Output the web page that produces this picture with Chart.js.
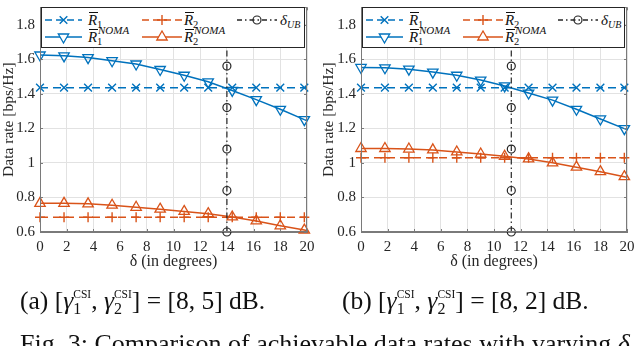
<!DOCTYPE html>
<html><head><meta charset="utf-8">
<script src="https://cdn.jsdelivr.net/npm/chart.js@4"></script>
<style>
html,body{margin:0;padding:0;background:#fff;width:640px;height:346px;overflow:hidden;font-family:"Liberation Serif",serif;color:#111;}
.panel{position:absolute;top:0;width:320px;height:272px;}
.panel canvas{position:absolute;left:0;top:0;}
svg text{font-family:"Liberation Serif",serif;fill:#111;}
</style>
</head>
<body>
<div class="panel" id="pa" style="left:0"><canvas id="ca" width="320" height="272"></canvas></div>
<div class="panel" id="pb" style="left:320px"><canvas id="cb" width="320" height="272"></canvas></div>
<svg id="caps" width="640" height="346" style="position:absolute;left:0;top:0;pointer-events:none">
  <text x="20" y="309" font-size="25.5">(a) [<tspan font-style="italic">γ</tspan><tspan font-size="16" dy="5">1</tspan><tspan font-size="11.5" dx="-8" dy="-16">CSI</tspan><tspan dy="11">, </tspan><tspan font-style="italic">γ</tspan><tspan font-size="16" dy="5">2</tspan><tspan font-size="11.5" dx="-8" dy="-16">CSI</tspan><tspan dy="11">] = [8, 5] dB.</tspan></text>
  <text x="342" y="309" font-size="25.5">(b) [<tspan font-style="italic">γ</tspan><tspan font-size="16" dy="5">1</tspan><tspan font-size="11.5" dx="-8" dy="-16">CSI</tspan><tspan dy="11">, </tspan><tspan font-style="italic">γ</tspan><tspan font-size="16" dy="5">2</tspan><tspan font-size="11.5" dx="-8" dy="-16">CSI</tspan><tspan dy="11">] = [8, 2] dB.</tspan></text>
  <text x="20" y="352" font-size="26">Fig. 3: Comparison of achievable data rates with varying <tspan font-style="italic">δ</tspan></text>
</svg>
<script>
// ---- data ----
const deltaX = [0, 1.8, 3.6, 5.4, 7.2, 9, 10.8, 12.6, 14.4, 16.2, 18, 19.8, 20];
const xTicks = [0, 2, 4, 6, 8, 10, 12, 14, 16, 18, 20];
const yTicks = [0.6, 0.8, 1, 1.2, 1.4, 1.6, 1.8];

// (a) [8,5] dB
const a_R1     = [1.435,1.435,1.435,1.435,1.435,1.435,1.435,1.435,1.435,1.435,1.435,1.435,1.435];
const a_R2     = [0.685,0.685,0.685,0.685,0.685,0.685,0.685,0.685,0.685,0.685,0.685,0.685,0.685];
const a_R1noma = [1.624,1.619,1.609,1.591,1.572,1.540,1.507,1.469,1.419,1.366,1.310,1.250,1.244];
const a_R2noma = [0.766,0.766,0.763,0.755,0.743,0.732,0.719,0.706,0.687,0.664,0.636,0.611,0.607];
const a_ubX = 14;
// (b) [8,2] dB
const b_R1     = [1.435,1.435,1.435,1.435,1.435,1.435,1.435,1.435,1.435,1.435,1.435,1.435,1.435];
const b_R2     = [1.03,1.03,1.03,1.03,1.03,1.03,1.03,1.03,1.03,1.03,1.03,1.03,1.03];
const b_R1noma = [1.552,1.550,1.542,1.525,1.507,1.479,1.445,1.404,1.363,1.310,1.254,1.198,1.192];
const b_R2noma = [1.083,1.083,1.080,1.075,1.063,1.051,1.038,1.023,1.000,0.975,0.949,0.920,0.916];
const b_ubX = 11.3;
const ubY = [0.6, 0.84, 1.08, 1.32, 1.56, 1.8];

const BLUE = '#0072BD', ORANGE = '#D95319', BLACK = '#262626';
const AXC = '#7a7a7a', GRID = '#e2e2e2';
const NMARK = 12;

function pts(xs, ys){ return xs.map((x,i)=>({x:x, y:ys[i]})); }
function mr(r){ return ctx => ctx.dataIndex < NMARK ? r : 0; }

const boxPlugin = {
  id:'box',
  afterDatasetsDraw(chart){
    const {ctx, chartArea:a, scales} = chart;
    ctx.save();
    ctx.strokeStyle = AXC; ctx.lineWidth = 1;
    ctx.strokeRect(Math.round(a.left)+0.5, Math.round(a.top)+0.5, Math.round(a.right-a.left)-1, Math.round(a.bottom-a.top)-1);
    ctx.beginPath();
    xTicks.forEach(v=>{ const p = Math.round(scales.x.getPixelForValue(v))+0.5;
      ctx.moveTo(p, a.bottom); ctx.lineTo(p, a.bottom-3); ctx.moveTo(p, a.top); ctx.lineTo(p, a.top+3); });
    yTicks.forEach(v=>{ const p = Math.round(scales.y.getPixelForValue(v))+0.5;
      ctx.moveTo(a.left, p); ctx.lineTo(a.left+3, p); ctx.moveTo(a.right, p); ctx.lineTo(a.right-3, p); });
    ctx.stroke();
    ctx.restore();
  }
};

function makeChart(id, yw, R1, R2, R1n, R2n, ubX){
  const FAM = '"Liberation Serif", serif';
  const tickFont = {family:FAM, size:15};
  return new Chart(document.getElementById(id), {
    type:'scatter',
    data:{datasets:[
      {label:'R1', data:pts(deltaX,R1), showLine:true, borderColor:BLUE, borderWidth:1.5, borderDash:[8,5],
        pointStyle:'crossRot', pointRadius:mr(5.5), pointBorderColor:BLUE, pointBorderWidth:1.4, clip:false, order:3},
      {label:'R2', data:pts(deltaX,R2), showLine:true, borderColor:ORANGE, borderWidth:1.5, borderDash:[8,5],
        pointStyle:'cross', pointRadius:mr(5), pointBorderColor:ORANGE, pointBorderWidth:1.4, clip:false, order:3},
      {label:'UB', data:pts(ubY.map(()=>ubX), ubY), showLine:true, borderColor:BLACK, borderWidth:1.2, borderDash:[6,3,1.5,3],
        pointStyle:'circle', pointRadius:4, pointBorderColor:BLACK, pointBackgroundColor:'rgba(0,0,0,0)', pointBorderWidth:1.2, clip:false, order:1},
      {label:'R1noma', data:pts(deltaX,R1n), showLine:true, borderColor:BLUE, borderWidth:1.5,
        pointStyle:'triangle', rotation:180, pointRadius:mr(6), pointBorderColor:BLUE, pointBackgroundColor:'rgba(0,0,0,0)', pointBorderWidth:1.3, clip:false, order:2},
      {label:'R2noma', data:pts(deltaX,R2n), showLine:true, borderColor:ORANGE, borderWidth:1.5,
        pointStyle:'triangle', pointRadius:mr(6), pointBorderColor:ORANGE, pointBackgroundColor:'rgba(0,0,0,0)', pointBorderWidth:1.3, clip:false, order:2}
    ]},
    options:{
      responsive:false, animation:false, devicePixelRatio:1,
      layout:{padding:{top:2, right:13, left:0, bottom:0}},
      plugins:{legend:{display:false}, tooltip:{enabled:false}},
      scales:{
        x:{type:'linear', min:0, max:20,
          ticks:{stepSize:2, padding:6, color:BLACK, font:tickFont, maxRotation:0, callback:v=>String(Math.round(v))},
          grid:{color:GRID, drawTicks:false},
          border:{display:true, color:AXC},
          title:{display:true, text:'δ (in degrees)', color:BLACK, font:{family:FAM, size:16}, padding:{top:0,bottom:1}},
          afterFit:s=>{ s.height = 40; s.paddingLeft = 0; s.paddingRight = 0; }
        },
        y:{type:'linear', min:0.6, max:1.9,
          ticks:{stepSize:0.2, padding:5, color:BLACK, font:tickFont, callback:v=>String(Math.round(v*10)/10)},
          afterBuildTicks:s=>{ s.ticks = s.ticks.filter(t=>t.value<=1.8001); },
          grid:{color:GRID, drawTicks:false},
          border:{display:true, color:AXC},
          title:{display:true, text:'Data rate [bps/Hz]', color:BLACK, font:{family:FAM, size:15.5}, padding:{top:0,bottom:0}},
          afterFit:s=>{ s.width = yw; s.paddingTop = 0; s.paddingBottom = 0; }
        }
      }
    },
    plugins:[boxPlugin]
  });
}

const SVGNS = 'http://www.w3.org/2000/svg';
function marker(m, cx, cy, c){
  if(m==='x') return `<path d="M${cx-3.8} ${cy-3.8}L${cx+3.8} ${cy+3.8}M${cx-3.8} ${cy+3.8}L${cx+3.8} ${cy-3.8}" stroke="${c}" stroke-width="1.4" fill="none"/>`;
  if(m==='+') return `<path d="M${cx-5} ${cy}L${cx+5} ${cy}M${cx} ${cy-5}L${cx} ${cy+5}" stroke="${c}" stroke-width="1.4" fill="none"/>`;
  if(m==='o') return `<circle cx="${cx}" cy="${cy}" r="4" fill="none" stroke="${c}" stroke-width="1.2"/>`;
  if(m==='v') return `<path d="M${cx-5.2} ${cy-3}L${cx+5.2} ${cy-3}L${cx} ${cy+6}Z" fill="#fff" stroke="${c}" stroke-width="1.3"/>`;
  return `<path d="M${cx-5.2} ${cy+3}L${cx+5.2} ${cy+3}L${cx} ${cy-6}Z" fill="#fff" stroke="${c}" stroke-width="1.3"/>`;
}
function sample(x1, x2, y, c, dash, m){
  return `<line x1="${x1}" y1="${y}" x2="${x2}" y2="${y}" stroke="${c}" stroke-width="1.5" ${dash?`stroke-dasharray="${dash}"`:''}/>` + marker(m, (x1+x2)/2, y, c);
}
function rbar(x, base, sub, sup){
  let s = `<text x="${x}" y="${base}" font-size="15" font-style="italic">R</text>`;
  s += `<line x1="${x+1}" y1="${base-12}" x2="${x+10}" y2="${base-12}" stroke="#111" stroke-width="1"/>`;
  s += `<text x="${x+9}" y="${base+3}" font-size="10.5">${sub}</text>`;
  if(sup) s += `<text x="${x+10}" y="${base-8}" font-size="11" font-style="italic">${sup}</text>`;
  return s;
}
function makeLegend(panelId, chart){
  const a = chart.chartArea;
  const W = Math.round(a.right-a.left-3), H = 41;
  const svg = document.createElementNS(SVGNS,'svg');
  svg.setAttribute('width', W); svg.setAttribute('height', H);
  svg.style.position='absolute'; svg.style.left=(Math.round(a.left)+1)+'px'; svg.style.top=Math.round(a.top)+'px';
  let s = `<rect x="0.5" y="0.5" width="${W-1}" height="${H-1}" fill="#fff" stroke="#262626" stroke-width="1"/>`;
  const r1 = 13, r2 = 30;
  s += sample(4, 41, r1, BLUE, '7,4', 'x');
  s += sample(101, 141, r1, ORANGE, '7,4', '+');
  s += sample(196, 236, r1, BLACK, '5,3,1.5,3', 'o');
  s += sample(4, 41, r2, BLUE, '', 'v');
  s += sample(101, 141, r2, ORANGE, '', '^');
  s += rbar(47, 17.5, '1', '');
  s += rbar(143, 17.5, '2', '');
  s += rbar(47, 34.5, '1', 'NOMA');
  s += rbar(143, 34.5, '2', 'NOMA');
  s += `<text x="239" y="17.5" font-size="15" font-style="italic">δ<tspan font-size="10" dy="3">UB</tspan></text>`;
  svg.innerHTML = s;
  document.getElementById(panelId).appendChild(svg);
}

const chA = makeChart('ca', 40, a_R1, a_R2, a_R1noma, a_R2noma, a_ubX);
const chB = makeChart('cb', 41, b_R1, b_R2, b_R1noma, b_R2noma, b_ubX);
makeLegend('pa', chA);
makeLegend('pb', chB);
</script>
</body></html>
